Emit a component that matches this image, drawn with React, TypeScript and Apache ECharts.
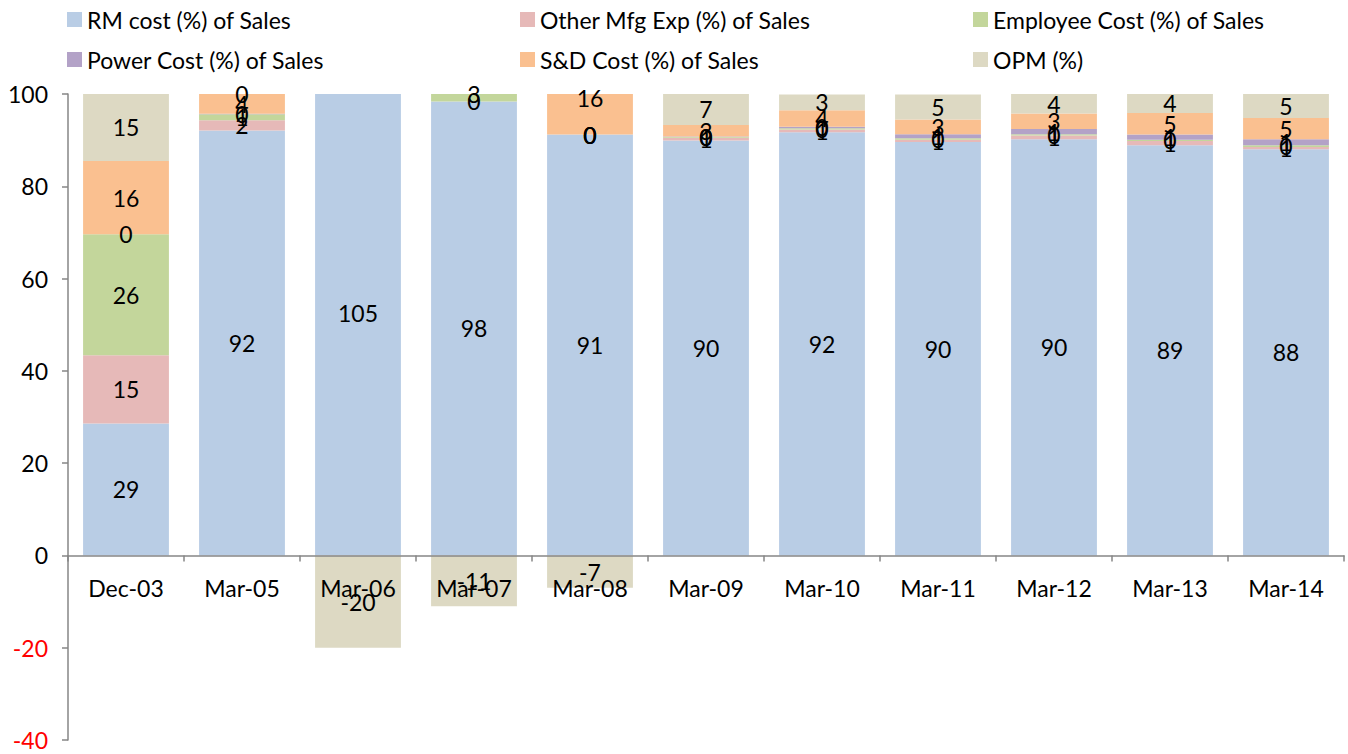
import React, { useEffect, useRef } from "react";
import * as echarts from "echarts";

const categories = ["Dec-03", "Mar-05", "Mar-06", "Mar-07", "Mar-08", "Mar-09", "Mar-10", "Mar-11", "Mar-12", "Mar-13", "Mar-14"];

const rmCost = [28.6, 92.1, 105, 98.4, 91.2, 89.9, 91.7, 89.6, 90.2, 88.9, 88.0];
const otherMfg = [14.8, 2.2, null, 0, 0, 0.6, 0.6, 0.5, 0.8, 0.9, 0.5];
const employeeCost = [26.2, 1.3, null, 3, 0, 0.2, 0.3, 0.3, 0.3, 0.3, 0.4];
const powerCost = [0, 0.1, null, null, 0, 0.1, 0.3, 0.9, 1.1, 1.1, 1.3];
const sdCost = [15.9, 4.3, null, null, 15.8, 2.5, 3.6, 3.2, 3.4, 4.7, 4.6];
const opm = [14.5, 0.0, -20, -11, -7, 6.7, 3.4, 5.4, 4.2, 4.1, 5.2];

const seriesNames = [
  "RM cost (%) of Sales",
  "Other Mfg Exp (%) of Sales",
  "Employee Cost (%) of Sales",
  "Power Cost (%) of Sales",
  "S&D Cost (%) of Sales",
  "OPM (%)",
];
const seriesColors = ["#B9CDE5", "#E6B9B8", "#C3D69B", "#B3A2C7", "#FAC090", "#DDD9C3"];
const seriesData = [rmCost, otherMfg, employeeCost, powerCost, sdCost, opm];

const yTicks = { min: -40, max: 100, interval: 20 };

const FONT = "Lato, 'Open Sans', sans-serif";
const FS = 23;

export default function App() {
  const ref = useRef<HTMLDivElement>(null);
  useEffect(() => {
    if (!ref.current) return;
    const chart = echarts.init(ref.current, undefined, { renderer: "svg" });
    const H = 754;
    const gridTop = 94;
    const gridBottom = 14;
    const plotH = H - gridTop - gridBottom;
    const pxPerUnit = plotH / (yTicks.max - yTicks.min);
    const zeroFromBottom = (plotH * (0 - yTicks.min)) / (yTicks.max - yTicks.min);

    // Label offsets so that labels of bars clipped at the axis max sit at the unclipped centre (as in Excel)
    const posCum = categories.map(() => 0);
    const negCum = categories.map(() => 0);
    const seriesItems = seriesData.map((arr) =>
      arr.map((v, ci) => {
        if (v === null || v === undefined) return { value: null };
        let a: number, b: number;
        if (v >= 0) {
          a = posCum[ci];
          b = a + v;
          posCum[ci] = b;
        } else {
          a = negCum[ci];
          b = a + v;
          negCum[ci] = b;
        }
        const lo = Math.min(a, b);
        const hi = Math.max(a, b);
        if (hi > yTicks.max && lo < yTicks.max) {
          const full = (lo + hi) / 2;
          const clipped = (lo + yTicks.max) / 2;
          return { value: v, label: { offset: [0, -(full - clipped) * pxPerUnit] } };
        }
        return { value: v };
      })
    );

    const legendPos = [
      { left: 67, top: 8 },
      { left: 520, top: 8 },
      { left: 973, top: 8 },
      { left: 67, top: 48 },
      { left: 520, top: 48 },
      { left: 973, top: 48 },
    ];
    const option: any = {
      animation: false,
      textStyle: { fontFamily: FONT },
      legend: seriesNames.map((n, i) => ({
        data: [n],
        left: legendPos[i].left,
        top: legendPos[i].top,
        padding: 0,
        icon: "rect",
        itemWidth: 15,
        itemHeight: 15,
        itemGap: 6,
        selectedMode: false,
        textStyle: { fontSize: FS, color: "#000", fontFamily: FONT },
      })),
      grid: { left: 68, right: 4, top: gridTop, bottom: gridBottom, containLabel: false, outerBoundsMode: "none" },
      xAxis: {
        type: "category",
        data: categories,
        position: "bottom",
        offset: -zeroFromBottom,
        z: 5,
        axisLine: { show: true, onZero: false, lineStyle: { color: "#868686", width: 1.5 } },
        axisTick: { show: true, alignWithLabel: false, length: 6, lineStyle: { color: "#868686", width: 1.5 } },
        axisLabel: { fontSize: FS, color: "#000", margin: 21, fontFamily: FONT, interval: 0 },
        splitLine: { show: false },
      },
      yAxis: {
        type: "value",
        min: yTicks.min,
        max: yTicks.max,
        interval: yTicks.interval,
        axisLine: { show: true, onZero: false, lineStyle: { color: "#868686", width: 1.5 } },
        axisTick: { show: true, length: 6, lineStyle: { color: "#868686", width: 1.5 } },
        splitLine: { show: false },
        axisLabel: {
          fontSize: FS,
          margin: 20,
          fontFamily: FONT,
          formatter: (v: number) => (v < 0 ? `{r|${v}}` : `{b|${v}}`),
          rich: {
            r: { color: "#FF0000", fontSize: FS, fontFamily: FONT },
            b: { color: "#000", fontSize: FS, fontFamily: FONT },
          },
        },
      },
      series: seriesNames.map((n, i) => ({
        name: n,
        type: "bar",
        stack: "total",
        data: seriesItems[i],
        barCategoryGap: "26%",
        itemStyle: { color: seriesColors[i] },
        clip: true,
        z: 2,
        label: {
          show: true,
          position: "inside",
          color: "#000",
          fontSize: FS,
          fontFamily: FONT,
          formatter: (p: any) => (p.value === null || p.value === undefined ? "" : String(Math.round(p.value))),
        },
      })),
    };
    chart.setOption(option);
    return () => chart.dispose();
  }, []);
  return (
    <div
      ref={ref}
      style={{ position: "fixed", left: 0, top: 0, width: 1348, height: 754, background: "#fff" }}
    />
  );
}
